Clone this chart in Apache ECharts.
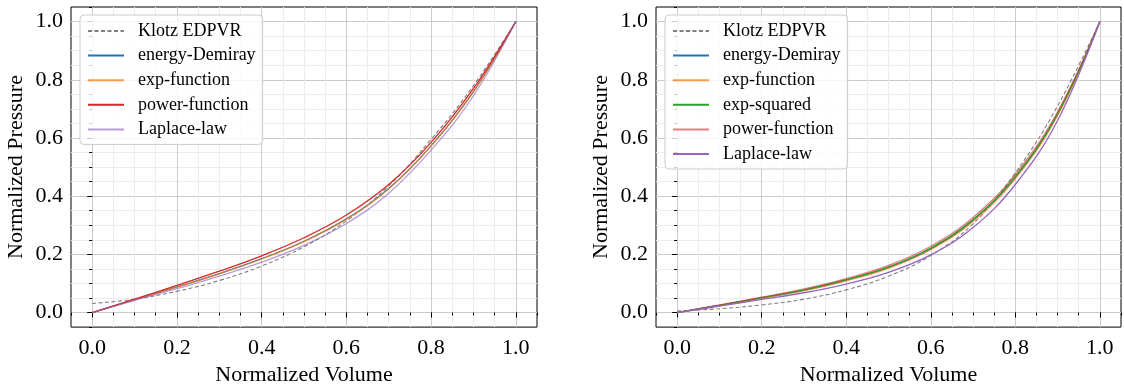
<!DOCTYPE html>
<html><head><meta charset="utf-8">
<script src="https://cdn.jsdelivr.net/npm/echarts@6/dist/echarts.min.js"></script>
<style>html,body{margin:0;padding:0;background:#fff}#c{width:1124px;height:391px}</style>
</head><body><div id="c"></div>
<script>
// ---- data ----
const volume = [0, 0.1, 0.2, 0.3, 0.4, 0.5, 0.6, 0.7, 0.8, 0.9, 1.0];
const xTicks = [0, 0.2, 0.4, 0.6, 0.8, 1.0];
const yTicks = [0, 0.2, 0.4, 0.6, 0.8, 1.0];
const xTitle = 'Normalized Volume';
const yTitle = 'Normalized Pressure';

const leftNames  = ['Klotz EDPVR', 'energy-Demiray', 'exp-function', 'power-function', 'Laplace-law'];
const rightNames = ['Klotz EDPVR', 'energy-Demiray', 'exp-function', 'exp-squared', 'power-function', 'Laplace-law'];

// left panel
const klotzL    = [0.031, 0.046, 0.073, 0.110, 0.160, 0.226, 0.315, 0.435, 0.595, 0.780, 1.0];
const demirayL  = [0, 0.0445, 0.088, 0.1335, 0.185, 0.245, 0.322, 0.426, 0.573, 0.759, 1.0];
const expL      = [0, 0.044, 0.087, 0.133, 0.184, 0.244, 0.321, 0.425, 0.572, 0.758, 1.0];
const powerL    = [0, 0.046, 0.093, 0.142, 0.195, 0.257, 0.335, 0.440, 0.585, 0.770, 1.0];
const laplaceL  = [0, 0.042, 0.082, 0.125, 0.173, 0.231, 0.306, 0.410, 0.558, 0.745, 1.0];

// right panel
const klotzR    = [0.005, 0.013, 0.026, 0.046, 0.078, 0.125, 0.196, 0.305, 0.480, 0.710, 1.0];
const demirayR  = [0, 0.0245, 0.050, 0.0765, 0.111, 0.155, 0.219, 0.317, 0.464, 0.680, 1.0];
const expR      = [0, 0.024, 0.049, 0.075, 0.109, 0.152, 0.216, 0.313, 0.460, 0.677, 1.0];
const expSqR    = [0, 0.025, 0.051, 0.078, 0.113, 0.157, 0.222, 0.320, 0.468, 0.684, 1.0];
const powerR    = [0, 0.026, 0.053, 0.081, 0.117, 0.162, 0.228, 0.327, 0.475, 0.690, 1.0];
const laplaceR  = [0, 0.022, 0.045, 0.068, 0.098, 0.138, 0.198, 0.292, 0.440, 0.660, 1.0];

// ---- styling ----
const FONT = '"Liberation Serif", "Times New Roman", serif';
const MAJOR = '#cbcbcb', MINOR = '#ececec';

const leftColors  = ['#7f7f7f', '#1f77b4', 'rgba(255,127,14,0.75)', '#d62728', 'rgba(148,103,189,0.65)'];
const rightColors = ['#7f7f7f', '#1f77b4', 'rgba(255,127,14,0.75)', '#2ca02c', 'rgba(214,39,40,0.6)', '#9467bd'];
const leftData  = [klotzL, demirayL, expL, powerL, laplaceL];
const rightData = [klotzR, demirayR, expR, expSqR, powerR, laplaceR];

const grids = [
  {left: 71, top: 7, width: 466, height: 326, show: true, borderColor: '#000', borderWidth: 1, backgroundColor: 'transparent'},
  {left: 656, top: 7, width: 465, height: 326, show: true, borderColor: '#000', borderWidth: 1, backgroundColor: 'transparent'}
];

function majorX(g) {
  return {type: 'value', gridIndex: g, position: 'bottom', min: -0.05, max: 1.05,
    axisLine: {show: false},
    axisTick: {show: true, length: 5, customValues: xTicks, lineStyle: {color: '#000', width: 1}},
    axisLabel: {customValues: xTicks, formatter: v => v.toFixed(1), fontFamily: FONT, fontSize: 22, color: '#000', margin: 10},
    splitLine: {show: true, lineStyle: {color: MAJOR, width: 1}},
    name: xTitle, nameLocation: 'middle', nameGap: 33,
    nameTextStyle: {fontFamily: FONT, fontSize: 22, color: '#000'}};
}
function minorX(g) {
  return {type: 'value', gridIndex: g, position: 'bottom', min: -0.05, max: 1.05, interval: 0.05,
    axisLine: {show: false},
    axisTick: {show: true, length: 3, lineStyle: {color: '#000', width: 1}},
    axisLabel: {show: false},
    splitLine: {show: true, showMinLine: false, showMaxLine: false, lineStyle: {color: MINOR, width: 1}}};
}
function majorY(g) {
  return {type: 'value', gridIndex: g, position: 'left', min: -0.05, max: 1.05,
    axisLine: {show: false},
    axisTick: {show: true, length: 5, customValues: yTicks, lineStyle: {color: '#000', width: 1}},
    axisLabel: {customValues: yTicks, formatter: v => v.toFixed(1), fontFamily: FONT, fontSize: 22, color: '#000', margin: 8},
    splitLine: {show: true, lineStyle: {color: MAJOR, width: 1}},
    name: yTitle, nameLocation: 'middle', nameGap: 44,
    nameTextStyle: {fontFamily: FONT, fontSize: 22, color: '#000'}};
}
function minorY(g) {
  return {type: 'value', gridIndex: g, position: 'left', min: -0.05, max: 1.05, interval: 0.05,
    axisLine: {show: false},
    axisTick: {show: true, length: 3, lineStyle: {color: '#000', width: 1}},
    axisLabel: {show: false},
    splitLine: {show: true, showMinLine: false, showMaxLine: false, lineStyle: {color: MINOR, width: 1}}};
}

// axes order: minor first (drawn below), then major
const xAxes = [minorX(0), majorX(0), minorX(1), majorX(1)];
const yAxes = [minorY(0), majorY(0), minorY(1), majorY(1)];

function mkSeries(name, arr, color, axisIdx, dashed) {
  return {type: 'line', name: name, xAxisIndex: axisIdx, yAxisIndex: axisIdx,
    data: volume.map((v, i) => [v, arr[i]]),
    smooth: 0.4, symbol: 'none', showSymbol: false, animation: false,
    lineStyle: {color: color, width: dashed ? 1.1 : 1.3, type: dashed ? [4, 2.5] : 'solid'},
    itemStyle: {color: color}, emphasis: {disabled: true}};
}

const series = [];
leftNames.forEach((n, i) => series.push(mkSeries(n, leftData[i], leftColors[i], 1, i === 0)));
rightNames.forEach((n, i) => series.push(mkSeries('R:' + n, rightData[i], rightColors[i], 3, i === 0)));

function mkLegend(left, names) {
  return {orient: 'vertical', left: left, top: 15, data: names, selectedMode: false,
    itemWidth: 36, itemHeight: 14, itemGap: 4.6, padding: [6, 7, 5, 7],
    itemStyle: {opacity: 0},
    borderColor: '#cccccc', borderWidth: 1, borderRadius: 4, backgroundColor: 'rgba(255,255,255,0.8)',
    formatter: n => n.replace(/^R:/, ''),
    textStyle: {fontFamily: FONT, fontSize: 18, color: '#000', lineHeight: 20, padding: [0, 0, 0, 9]}};
}

const chart = echarts.init(document.getElementById('c'), null, {renderer: 'canvas'});
chart.setOption({
  animation: false,
  backgroundColor: '#fff',
  grid: grids,
  xAxis: xAxes,
  yAxis: yAxes,
  legend: [mkLegend(80, leftNames), mkLegend(665, rightNames.map(n => 'R:' + n))],
  series: series
});
</script></body></html>
